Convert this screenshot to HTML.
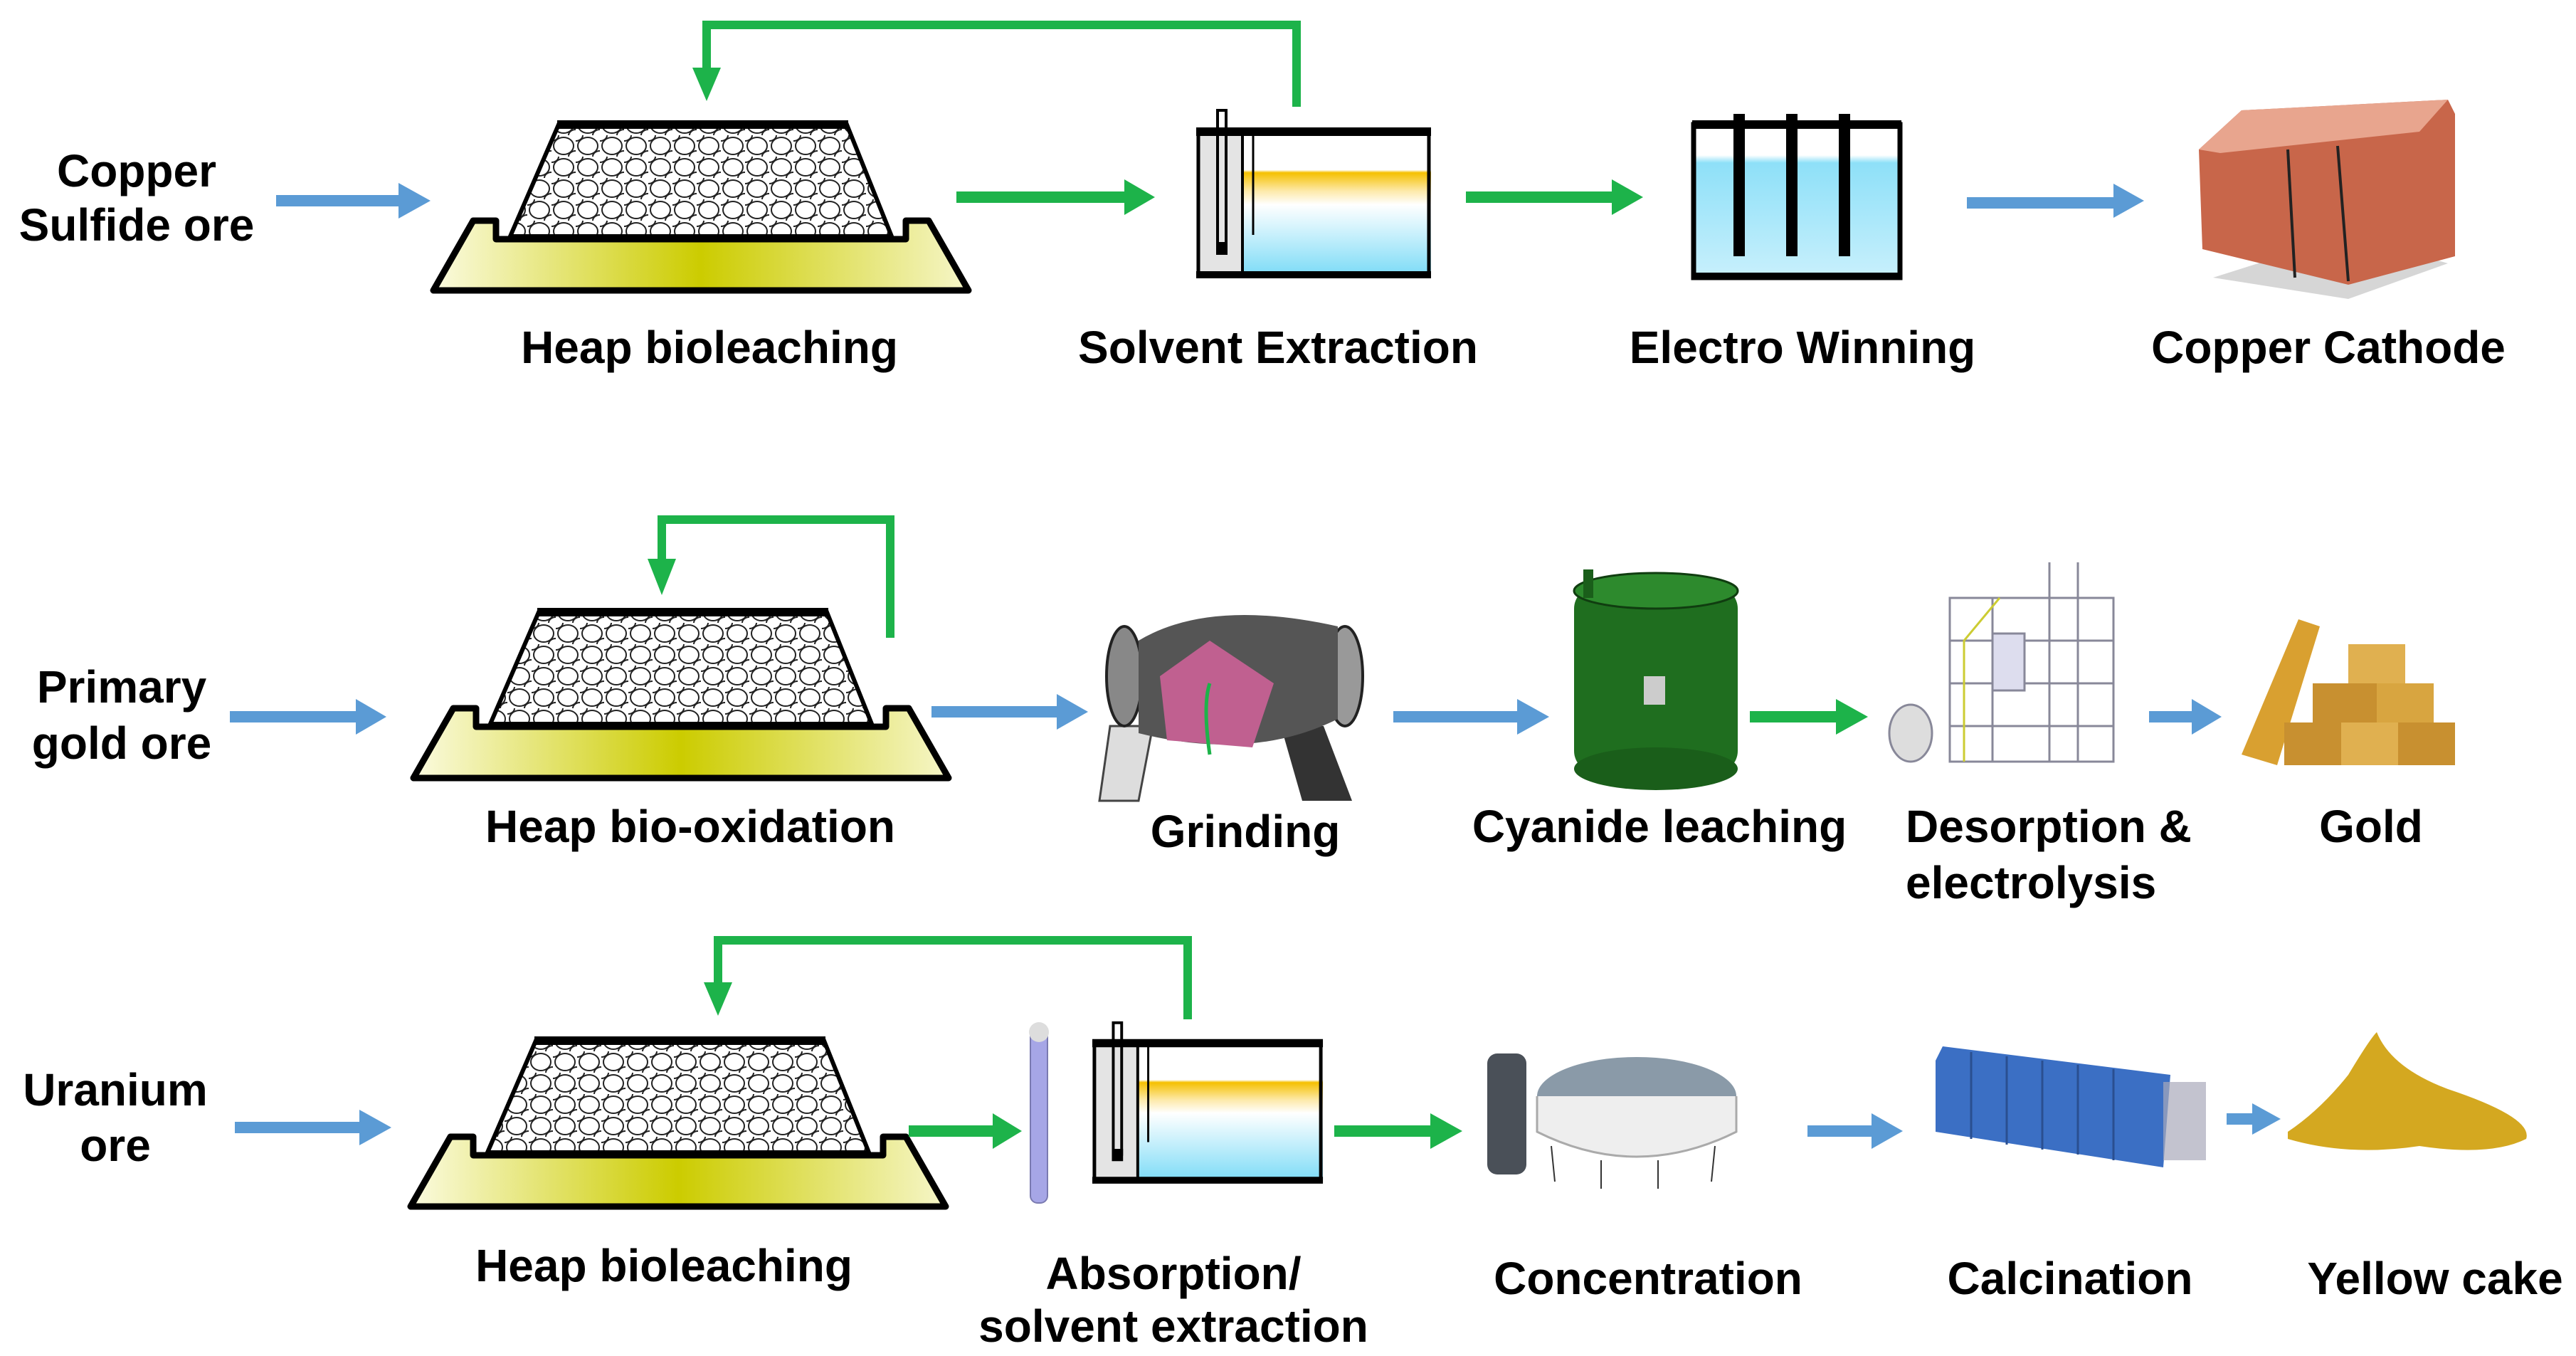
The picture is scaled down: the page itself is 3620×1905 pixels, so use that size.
<!DOCTYPE html>
<html><head><meta charset="utf-8"><style>
html,body{margin:0;padding:0;background:#fff}
svg{display:block}
text{font-family:"Liberation Sans",sans-serif;font-weight:bold;font-size:64px;fill:#000;text-anchor:middle}
</style></head><body>
<svg width="3620" height="1905" viewBox="0 0 3620 1905" xmlns="http://www.w3.org/2000/svg">
<defs>
<linearGradient id="tray" x1="0" x2="1">
<stop offset="0" stop-color="#fbfbe0"/><stop offset="0.5" stop-color="#cccc00"/><stop offset="1" stop-color="#f6f6c8"/></linearGradient>
<linearGradient id="liq" x1="0" y1="0" x2="0" y2="1">
<stop offset="0" stop-color="#fff"/><stop offset="0.25" stop-color="#fff"/><stop offset="0.27" stop-color="#f5c000"/><stop offset="0.4" stop-color="#fde9a8"/><stop offset="0.5" stop-color="#fff"/><stop offset="1" stop-color="#7fdcf7"/></linearGradient>
<linearGradient id="ew" x1="0" y1="0" x2="0" y2="1">
<stop offset="0" stop-color="#fff"/><stop offset="0.2" stop-color="#fff"/><stop offset="0.25" stop-color="#8ee0f8"/><stop offset="1" stop-color="#c8f0fc"/></linearGradient>
<pattern id="rocks" width="34" height="30" patternUnits="userSpaceOnUse">
<rect width="34" height="30" fill="#fff"/>
<ellipse cx="17" cy="15" rx="14" ry="12" fill="none" stroke="#222" stroke-width="2"/>
<ellipse cx="0" cy="0" rx="10" ry="8" fill="none" stroke="#222" stroke-width="2"/>
<ellipse cx="34" cy="30" rx="10" ry="8" fill="none" stroke="#222" stroke-width="2"/>
</pattern>
<g id="heap">
<polygon points="180,15 585,15 648,172 112,172" fill="url(#rocks)" stroke="#000" stroke-width="6"/>
<line x1="178" y1="15" x2="587" y2="15" stroke="#000" stroke-width="12"/>
<polygon points="4,248 756,248 700,150 668,150 668,176 92,176 92,150 60,150" fill="url(#tray)" stroke="#000" stroke-width="9" stroke-linejoin="round"/>
</g>
<g id="sx">
<rect x="0" y="30" width="330" height="210" fill="#fff"/>
<rect x="0" y="40" width="65" height="195" fill="#e4e4e4"/>
<rect x="65" y="40" width="265" height="195" fill="url(#liq)"/>
<line x1="0" y1="35" x2="330" y2="35" stroke="#000" stroke-width="12"/>
<line x1="0" y1="236" x2="330" y2="236" stroke="#000" stroke-width="10"/>
<line x1="3" y1="30" x2="3" y2="240" stroke="#000" stroke-width="5"/>
<line x1="327" y1="30" x2="327" y2="240" stroke="#000" stroke-width="5"/>
<line x1="65" y1="30" x2="65" y2="240" stroke="#000" stroke-width="4"/>
<line x1="80" y1="35" x2="80" y2="180" stroke="#000" stroke-width="3"/>
<path d="M30 200 V5 h12 V200" fill="none" stroke="#000" stroke-width="4"/>
<rect x="28" y="190" width="16" height="18" fill="#000"/>
</g>
</defs>

<!-- Row 1 -->
<text x="192" y="262">Copper</text>
<text x="192" y="338">Sulfide ore</text>
<path d="M388 282 H565" stroke="#5b9bd5" stroke-width="16"/><polygon points="560,257 605,282 560,307" fill="#5b9bd5"/>
<use href="#heap" x="605" y="160"/>
<path d="M1822 150 V35 H993 V100" fill="none" stroke="#1db34a" stroke-width="12"/><polygon points="973,95 1013,95 993,142" fill="#1db34a"/>
<path d="M1344 277 H1585" stroke="#1db34a" stroke-width="16"/><polygon points="1580,252 1623,277 1580,302" fill="#1db34a"/>
<use href="#sx" x="1681" y="150"/>
<path d="M2060 277 H2270" stroke="#1db34a" stroke-width="16"/><polygon points="2265,252 2309,277 2265,302" fill="#1db34a"/>
<g>
<rect x="2380" y="175" width="290" height="215" fill="url(#ew)"/>
<rect x="2380" y="175" width="290" height="215" fill="none" stroke="#000" stroke-width="7"/>
<line x1="2378" y1="175" x2="2672" y2="175" stroke="#000" stroke-width="12"/>
<line x1="2378" y1="388" x2="2672" y2="388" stroke="#000" stroke-width="10"/>
<rect x="2436" y="160" width="16" height="200" fill="#000"/>
<rect x="2510" y="160" width="16" height="200" fill="#000"/>
<rect x="2584" y="160" width="16" height="200" fill="#000"/>
</g>
<path d="M2764 285 H2975" stroke="#5b9bd5" stroke-width="16"/><polygon points="2970,258 3013,282 2970,306" fill="#5b9bd5"/>
<g>
<polygon points="3110,390 3300,420 3440,370 3300,330" fill="#bbb" opacity="0.6"/>
<polygon points="3090,210 3150,155 3440,140 3450,160 3450,360 3300,400 3095,350" fill="#c8664a"/>
<polygon points="3090,210 3150,155 3440,140 3400,185 3120,215" fill="#e8a58e"/>
<line x1="3215" y1="210" x2="3225" y2="390" stroke="#222" stroke-width="4"/>
<line x1="3285" y1="205" x2="3300" y2="395" stroke="#222" stroke-width="4"/>
</g>
<text x="997" y="510">Heap bioleaching</text>
<text x="1796" y="510">Solvent Extraction</text>
<text x="2533" y="510">Electro Winning</text>
<text x="3272" y="510">Copper Cathode</text>

<!-- Row 2 -->
<text x="171" y="987">Primary</text>
<text x="171" y="1066">gold ore</text>
<path d="M323 1007 H505" stroke="#5b9bd5" stroke-width="16"/><polygon points="500,982 543,1007 500,1032" fill="#5b9bd5"/>
<use href="#heap" x="577" y="845"/>
<path d="M1251 896 V730 H930 V790" fill="none" stroke="#1db34a" stroke-width="12"/><polygon points="910,785 950,785 930,836" fill="#1db34a"/>
<path d="M1309 1000 H1490" stroke="#5b9bd5" stroke-width="16"/><polygon points="1485,975 1529,1000 1485,1025" fill="#5b9bd5"/>
<g>
<polygon points="1560,1020 1620,1020 1600,1125 1545,1125" fill="#ddd" stroke="#444" stroke-width="3"/>
<polygon points="1800,1020 1860,1020 1900,1125 1830,1125" fill="#333"/>
<ellipse cx="1580" cy="950" rx="25" ry="70" fill="#888" stroke="#222" stroke-width="4"/>
<ellipse cx="1890" cy="950" rx="25" ry="70" fill="#999" stroke="#222" stroke-width="4"/>
<path d="M1600 900 Q1700 840 1880 880 V1010 Q1760 1070 1600 1030 Z" fill="#555"/>
<path d="M1630 950 L1700 900 L1790 960 L1760 1050 L1640 1040 Z" fill="#c06090"/>
<path d="M1700 1060 Q1690 990 1700 960" fill="none" stroke="#1db34a" stroke-width="5"/>
</g>
<path d="M1958 1007 H2137" stroke="#5b9bd5" stroke-width="16"/><polygon points="2132,982 2177,1007 2132,1032" fill="#5b9bd5"/>
<g>
<rect x="2212" y="825" width="230" height="260" rx="30" fill="#1f6e1f"/>
<ellipse cx="2327" cy="1080" rx="115" ry="30" fill="#1a5e1a"/>
<ellipse cx="2327" cy="830" rx="115" ry="25" fill="#2d8a2d" stroke="#103d10" stroke-width="3"/>
<rect x="2225" y="800" width="14" height="40" fill="#1a5e1a"/>
<rect x="2310" y="950" width="30" height="40" fill="#ccc"/>
</g>
<path d="M2459 1007 H2585" stroke="#1db34a" stroke-width="16"/><polygon points="2580,982 2625,1007 2580,1032" fill="#1db34a"/>
<g stroke="#889" stroke-width="3" fill="none">
<rect x="2740" y="840" width="230" height="230"/>
<line x1="2740" y1="900" x2="2970" y2="900"/><line x1="2740" y1="960" x2="2970" y2="960"/><line x1="2740" y1="1020" x2="2970" y2="1020"/>
<line x1="2800" y1="840" x2="2800" y2="1070"/><line x1="2880" y1="790" x2="2880" y2="1070"/><line x1="2920" y1="790" x2="2920" y2="1070"/>
<rect x="2800" y="890" width="45" height="80" fill="#dde" />
<polyline points="2760,1070 2760,900 2810,840" stroke="#cc3"/>
<ellipse cx="2685" cy="1030" rx="30" ry="40" fill="#ddd"/>
</g>
<path d="M3020 1007 H3085" stroke="#5b9bd5" stroke-width="16"/><polygon points="3080,982 3122,1007 3080,1032" fill="#5b9bd5"/>
<g>
<polygon points="3150,1060 3230,870 3260,880 3200,1075" fill="#d9a030"/>
<rect x="3250" y="960" width="90" height="55" fill="#c89030"/><rect x="3340" y="960" width="80" height="55" fill="#d8a540"/>
<rect x="3210" y="1015" width="80" height="60" fill="#c89030"/><rect x="3290" y="1015" width="80" height="60" fill="#e0b050"/><rect x="3370" y="1015" width="80" height="60" fill="#c89030"/>
<rect x="3300" y="905" width="80" height="55" fill="#e0b050"/>
</g>
<text x="970" y="1183">Heap bio-oxidation</text>
<text x="1750" y="1190">Grinding</text>
<text x="2332" y="1183">Cyanide leaching</text>
<text x="2678" y="1183" style="text-anchor:start">Desorption &amp;</text>
<text x="2678" y="1262" style="text-anchor:start">electrolysis</text>
<text x="3332" y="1183">Gold</text>

<!-- Row 3 -->
<text x="162" y="1553">Uranium</text>
<text x="162" y="1631">ore</text>
<path d="M330 1584 H510" stroke="#5b9bd5" stroke-width="16"/><polygon points="505,1559 550,1584 505,1609" fill="#5b9bd5"/>
<use href="#heap" x="573" y="1447"/>
<path d="M1669 1432 V1321 H1009 V1385" fill="none" stroke="#1db34a" stroke-width="12"/><polygon points="989,1380 1029,1380 1009,1427" fill="#1db34a"/>
<path d="M1277 1589 H1400" stroke="#1db34a" stroke-width="16"/><polygon points="1395,1564 1436,1589 1395,1614" fill="#1db34a"/>
<rect x="1448" y="1440" width="24" height="250" rx="10" fill="#a6a6e6" stroke="#7a7ab0" stroke-width="2"/>
<ellipse cx="1460" cy="1450" rx="14" ry="14" fill="#ddd"/>
<use href="#sx" transform="translate(1535,1432) scale(0.982,0.958)"/>
<path d="M1875 1589 H2015" stroke="#1db34a" stroke-width="16"/><polygon points="2010,1564 2055,1589 2010,1614" fill="#1db34a"/>
<g>
<rect x="2090" y="1480" width="55" height="170" rx="14" fill="#4a5058"/>
<ellipse cx="2300" cy="1540" rx="140" ry="55" fill="#8a9aa8"/>
<path d="M2160 1540 V1590 Q2300 1660 2440 1590 V1540" fill="#eee" stroke="#aaa" stroke-width="3"/>
<g stroke="#333" stroke-width="2"><line x1="2180" y1="1610" x2="2185" y2="1660"/><line x1="2250" y1="1630" x2="2250" y2="1670"/><line x1="2330" y1="1630" x2="2330" y2="1670"/><line x1="2410" y1="1610" x2="2405" y2="1660"/></g>
</g>
<path d="M2540 1589 H2635" stroke="#5b9bd5" stroke-width="16"/><polygon points="2630,1564 2674,1589 2630,1614" fill="#5b9bd5"/>
<g>
<polygon points="2720,1490 2730,1470 3050,1510 3040,1640 2720,1590" fill="#3b6fc4"/>
<g stroke="#2a4f90" stroke-width="3"><line x1="2770" y1="1478" x2="2770" y2="1600"/><line x1="2820" y1="1484" x2="2820" y2="1608"/><line x1="2870" y1="1490" x2="2870" y2="1615"/><line x1="2920" y1="1496" x2="2920" y2="1622"/><line x1="2970" y1="1502" x2="2970" y2="1630"/></g>
<rect x="3040" y="1520" width="60" height="110" fill="#aab" opacity="0.7"/>
</g>
<path d="M3129 1572 H3170" stroke="#5b9bd5" stroke-width="16"/><polygon points="3165,1550 3205,1572 3165,1594" fill="#5b9bd5"/>
<path d="M3215 1590 Q3260 1560 3300 1510 Q3330 1460 3340 1450 Q3360 1500 3440 1530 Q3560 1570 3550 1600 Q3500 1625 3400 1610 Q3300 1625 3215 1600 Z" fill="#d4a820"/>
<text x="933" y="1800">Heap bioleaching</text>
<text x="1649" y="1811">Absorption/</text>
<text x="1649" y="1885">solvent extraction</text>
<text x="2316" y="1818">Concentration</text>
<text x="2909" y="1818">Calcination</text>
<text x="3422" y="1818">Yellow cake</text>
</svg>
</body></html>
